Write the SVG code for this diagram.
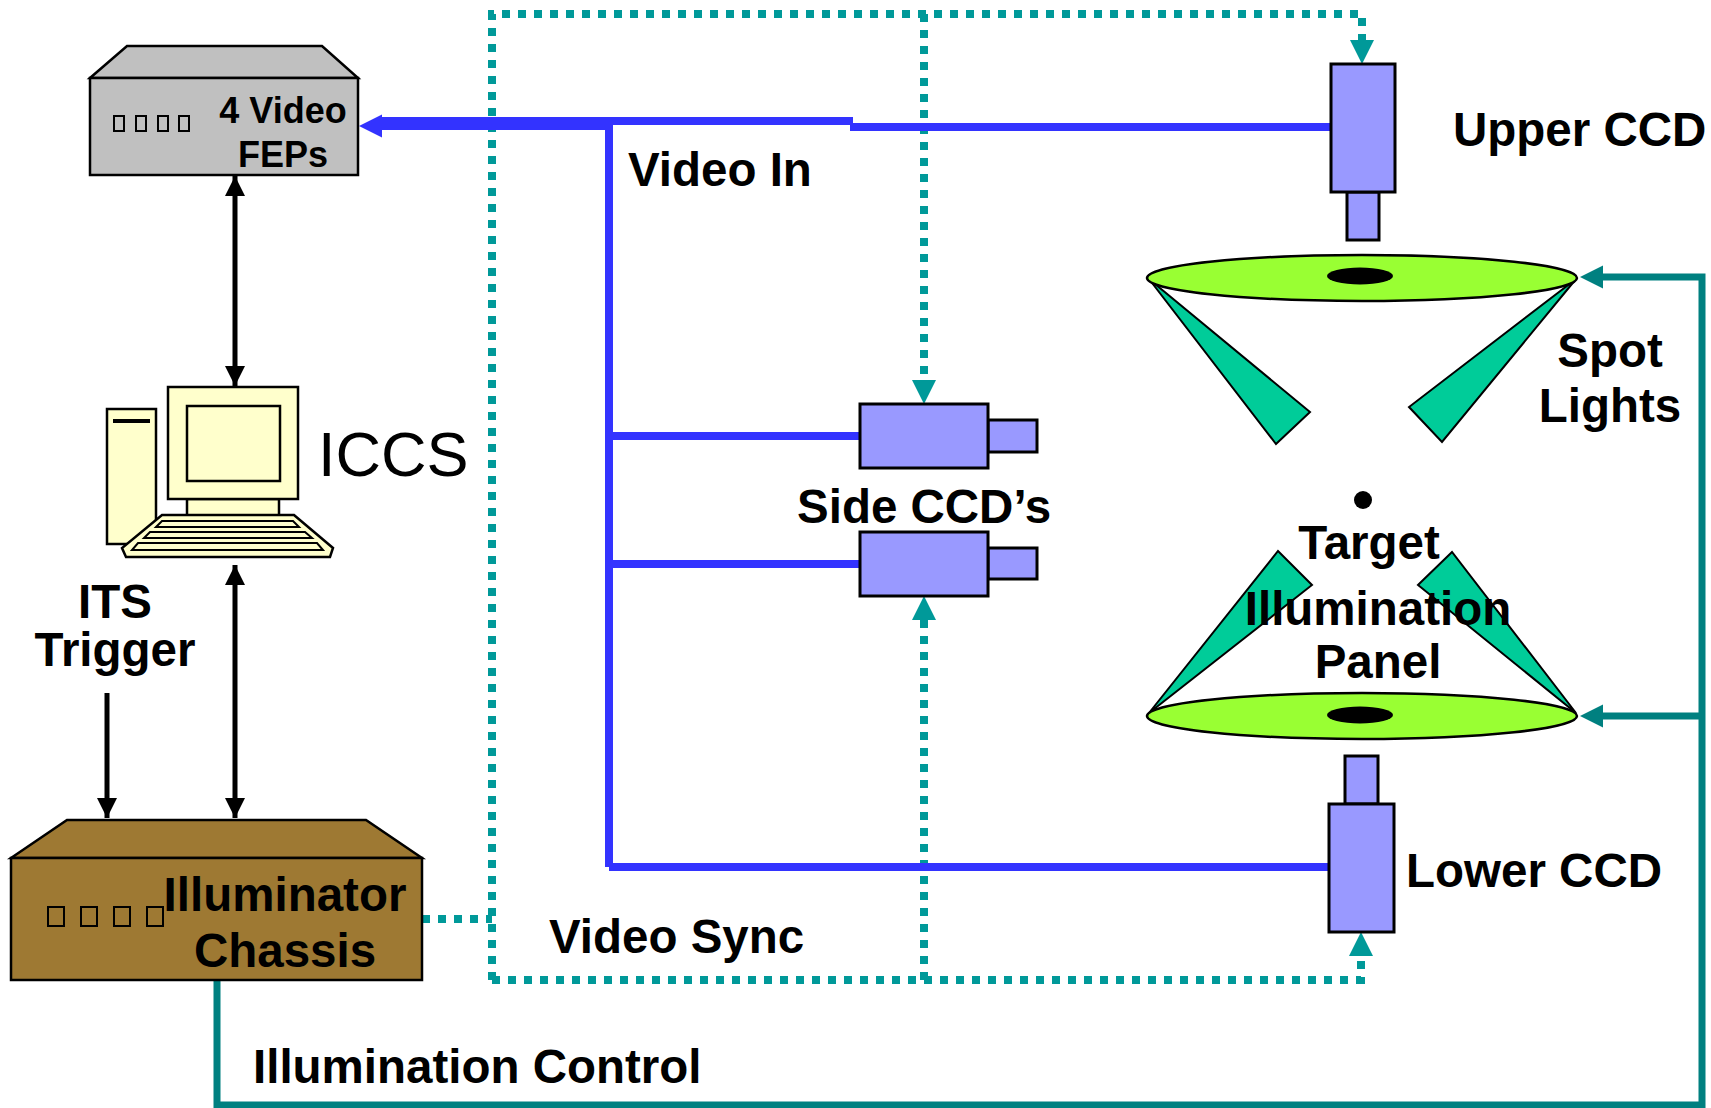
<svg xmlns="http://www.w3.org/2000/svg" width="1711" height="1108" viewBox="0 0 1711 1108">
  <style>
    .lbl { font-family: "Liberation Sans", Arial, sans-serif; font-weight: bold; font-size: 47.5px; fill: #000; }
    .edge { fill: none; stroke-linejoin: miter; }
    .video { stroke: #3333FF; stroke-width: 8; }
    .sync { stroke: #009999; stroke-width: 8; stroke-dasharray: 8 8; }
    .ctrl { stroke: #008080; stroke-width: 7; }
    .data { stroke: #000; stroke-width: 5; }
    .ccd { fill: #9999FF; stroke: #000; stroke-width: 3; }
    .led { fill: #99FF33; stroke: #000; stroke-width: 2.5; }
    .beam { fill: #00CC99; stroke: #000; stroke-width: 2; stroke-linejoin: miter; }
    .pc { fill: #FFFFCC; stroke: #000; stroke-width: 2.5; }
    .slot { fill: none; stroke: #000; stroke-width: 2; }
  </style>
  <defs>
    <marker id="blk" viewBox="0 0 20 20" refX="20" refY="10" markerWidth="20" markerHeight="20" markerUnits="userSpaceOnUse" orient="auto-start-reverse">
      <path d="M0,0 L20,10 L0,20 z" fill="#000"/>
    </marker>
  </defs>

  <rect width="1711" height="1108" fill="#fff"/>

  <!-- connectors -->
  <g id="connectors">
    <!-- video sync (dotted) -->
    <path class="edge sync" d="M422,919 H492"/>
    <path class="edge sync" d="M492,980 V14 H1362 V40"/>
    <path class="edge sync" d="M924,14 V380"/>
    <path class="edge sync" d="M492,980 H1361 V956"/>
    <path class="edge sync" d="M924,980 V620"/>
    <path d="M1350,40 L1374,40 L1362,64 z" fill="#009999"/>
    <path d="M912,380 L936,380 L924,404 z" fill="#009999"/>
    <path d="M912,620 L936,620 L924,596 z" fill="#009999"/>
    <path d="M1349,956 L1373,956 L1361,932 z" fill="#009999"/>

    <!-- video in (blue) -->
    <path class="edge video" d="M1331,127 H850"/>
    <path class="edge video" d="M853,121 H380"/>
    <path class="edge video" d="M609,867 V126 H380"/>
    <path class="edge video" d="M609,436 H860"/>
    <path class="edge video" d="M609,564 H860"/>
    <path class="edge video" d="M609,867 H1331"/>
    <path d="M359,126 L382,114.5 L382,137.5 z" fill="#3333FF"/>

    <!-- illumination control (solid teal) -->
    <path class="edge ctrl" d="M217,980 V1105 H1702 V277 H1600"/>
    <path class="edge ctrl" d="M1702,716 H1600"/>
    <path d="M1580,277 L1603,265.5 L1603,288.5 z" fill="#008080"/>
    <path d="M1580,716 L1603,704.5 L1603,727.5 z" fill="#008080"/>

    <!-- data links (black) -->
    <path class="edge data" d="M235,176 V386" marker-start="url(#blk)" marker-end="url(#blk)"/>
    <path class="edge data" d="M235,565 V818" marker-start="url(#blk)" marker-end="url(#blk)"/>
    <path class="edge data" d="M107,693 V818" marker-end="url(#blk)"/>
  </g>

  <!-- 4 Video FEPs chassis -->
  <g id="fep">
    <path d="M90,78 L127,46 L322,46 L358,78 z" fill="#C0C0C0" stroke="#000" stroke-width="2.5"/>
    <rect x="90" y="78" width="268" height="97" fill="#C0C0C0" stroke="#000" stroke-width="2.5"/>
    <g fill="none" stroke="#000" stroke-width="2">
      <rect x="114" y="116" width="10" height="15"/>
      <rect x="136" y="116" width="10" height="15"/>
      <rect x="158" y="116" width="10" height="15"/>
      <rect x="179" y="116" width="10" height="15"/>
    </g>
    <text class="lbl" x="283" y="123" text-anchor="middle" style="font-size:36px">4 Video</text>
    <text class="lbl" x="283" y="167" text-anchor="middle" style="font-size:36px">FEPs</text>
  </g>

  <!-- ICCS workstation -->
  <g id="iccs">
    <rect class="pc" x="107" y="409" width="49" height="135"/>
    <rect x="113" y="419" width="37" height="4" fill="#000"/>
    <rect class="pc" x="187" y="499" width="92" height="17"/>
    <rect class="pc" x="168" y="387" width="130" height="112"/>
    <rect class="pc" x="187" y="406" width="93" height="75"/>
    <path class="pc" d="M162,515 L294,515 L333,548 L330,557 L126,557 L122,548 z"/>
    <path class="slot" d="M162,521 L293,521 L299,527 L156,527 z"/>
    <path class="slot" d="M150,532 L305,532 L312,538 L144,538 z"/>
    <path class="slot" d="M138,543 L317,543 L323,550 L132,550 z"/>
    <text x="318" y="476" style="font-family:'Liberation Sans', Arial, sans-serif; font-size:63px">ICCS</text>
  </g>

  <!-- Illuminator Chassis -->
  <g id="illuminator">
    <path d="M11,858 L67,820 L366,820 L422,858 z" fill="#9E7933" stroke="#000" stroke-width="2.5"/>
    <rect x="11" y="858" width="411" height="122" fill="#9E7933" stroke="#000" stroke-width="2.5"/>
    <g fill="none" stroke="#000" stroke-width="2">
      <rect x="48" y="907" width="16" height="19"/>
      <rect x="81" y="907" width="16" height="19"/>
      <rect x="114" y="907" width="16" height="19"/>
      <rect x="147" y="907" width="16" height="19"/>
    </g>
    <text class="lbl" x="285" y="911" text-anchor="middle">Illuminator</text>
    <text class="lbl" x="285" y="967" text-anchor="middle">Chassis</text>
  </g>

  <!-- Upper CCD -->
  <g id="upper-ccd">
    <rect class="ccd" x="1347" y="192" width="32" height="48"/>
    <rect class="ccd" x="1331" y="64" width="64" height="128"/>
  </g>

  <!-- Side CCDs -->
  <g id="side-ccd-1">
    <rect class="ccd" x="988" y="420" width="49" height="32"/>
    <rect class="ccd" x="860" y="404" width="128" height="64"/>
  </g>
  <g id="side-ccd-2">
    <rect class="ccd" x="988" y="548" width="49" height="31"/>
    <rect class="ccd" x="860" y="532" width="128" height="64"/>
  </g>

  <!-- Lower CCD -->
  <g id="lower-ccd">
    <rect class="ccd" x="1345" y="756" width="33" height="48"/>
    <rect class="ccd" x="1329" y="804" width="65" height="128"/>
  </g>

  <!-- Upper spot lights -->
  <g id="spot-lights-upper">
    <polygon class="beam" points="1149,279 1310,412 1276,444"/>
    <polygon class="beam" points="1576,279 1409,407 1442,442"/>
    <ellipse class="led" cx="1362" cy="278" rx="215" ry="23"/>
    <ellipse cx="1360" cy="276" rx="33" ry="8.5" fill="#000"/>
  </g>

  <!-- Lower spot lights -->
  <g id="spot-lights-lower">
    <polygon class="beam" points="1149,713 1278,551 1312,585"/>
    <polygon class="beam" points="1576,713 1452,552 1418,585"/>
    <ellipse class="led" cx="1362" cy="716" rx="215" ry="23"/>
    <ellipse cx="1360" cy="715" rx="33" ry="8.5" fill="#000"/>
  </g>

  <!-- Target -->
  <g id="target">
    <circle cx="1363" cy="500" r="9" fill="#000"/>
  </g>

  <!-- labels -->
  <g id="labels">
    <text class="lbl" x="628" y="186">Video In</text>
    <text class="lbl" x="797" y="523">Side CCD’s</text>
    <text class="lbl" x="1453" y="146">Upper CCD</text>
    <text class="lbl" x="1406" y="887">Lower CCD</text>
    <text class="lbl" x="1610" y="367" text-anchor="middle">Spot</text>
    <text class="lbl" x="1610" y="422" text-anchor="middle">Lights</text>
    <text class="lbl" x="1369" y="559" text-anchor="middle">Target</text>
    <text class="lbl" x="1378" y="625" text-anchor="middle">Illumination</text>
    <text class="lbl" x="1378" y="678" text-anchor="middle">Panel</text>
    <text class="lbl" x="115" y="618" text-anchor="middle">ITS</text>
    <text class="lbl" x="115" y="666" text-anchor="middle">Trigger</text>
    <text class="lbl" x="549" y="953">Video Sync</text>
    <text class="lbl" x="253" y="1083">Illumination Control</text>
  </g>
</svg>
